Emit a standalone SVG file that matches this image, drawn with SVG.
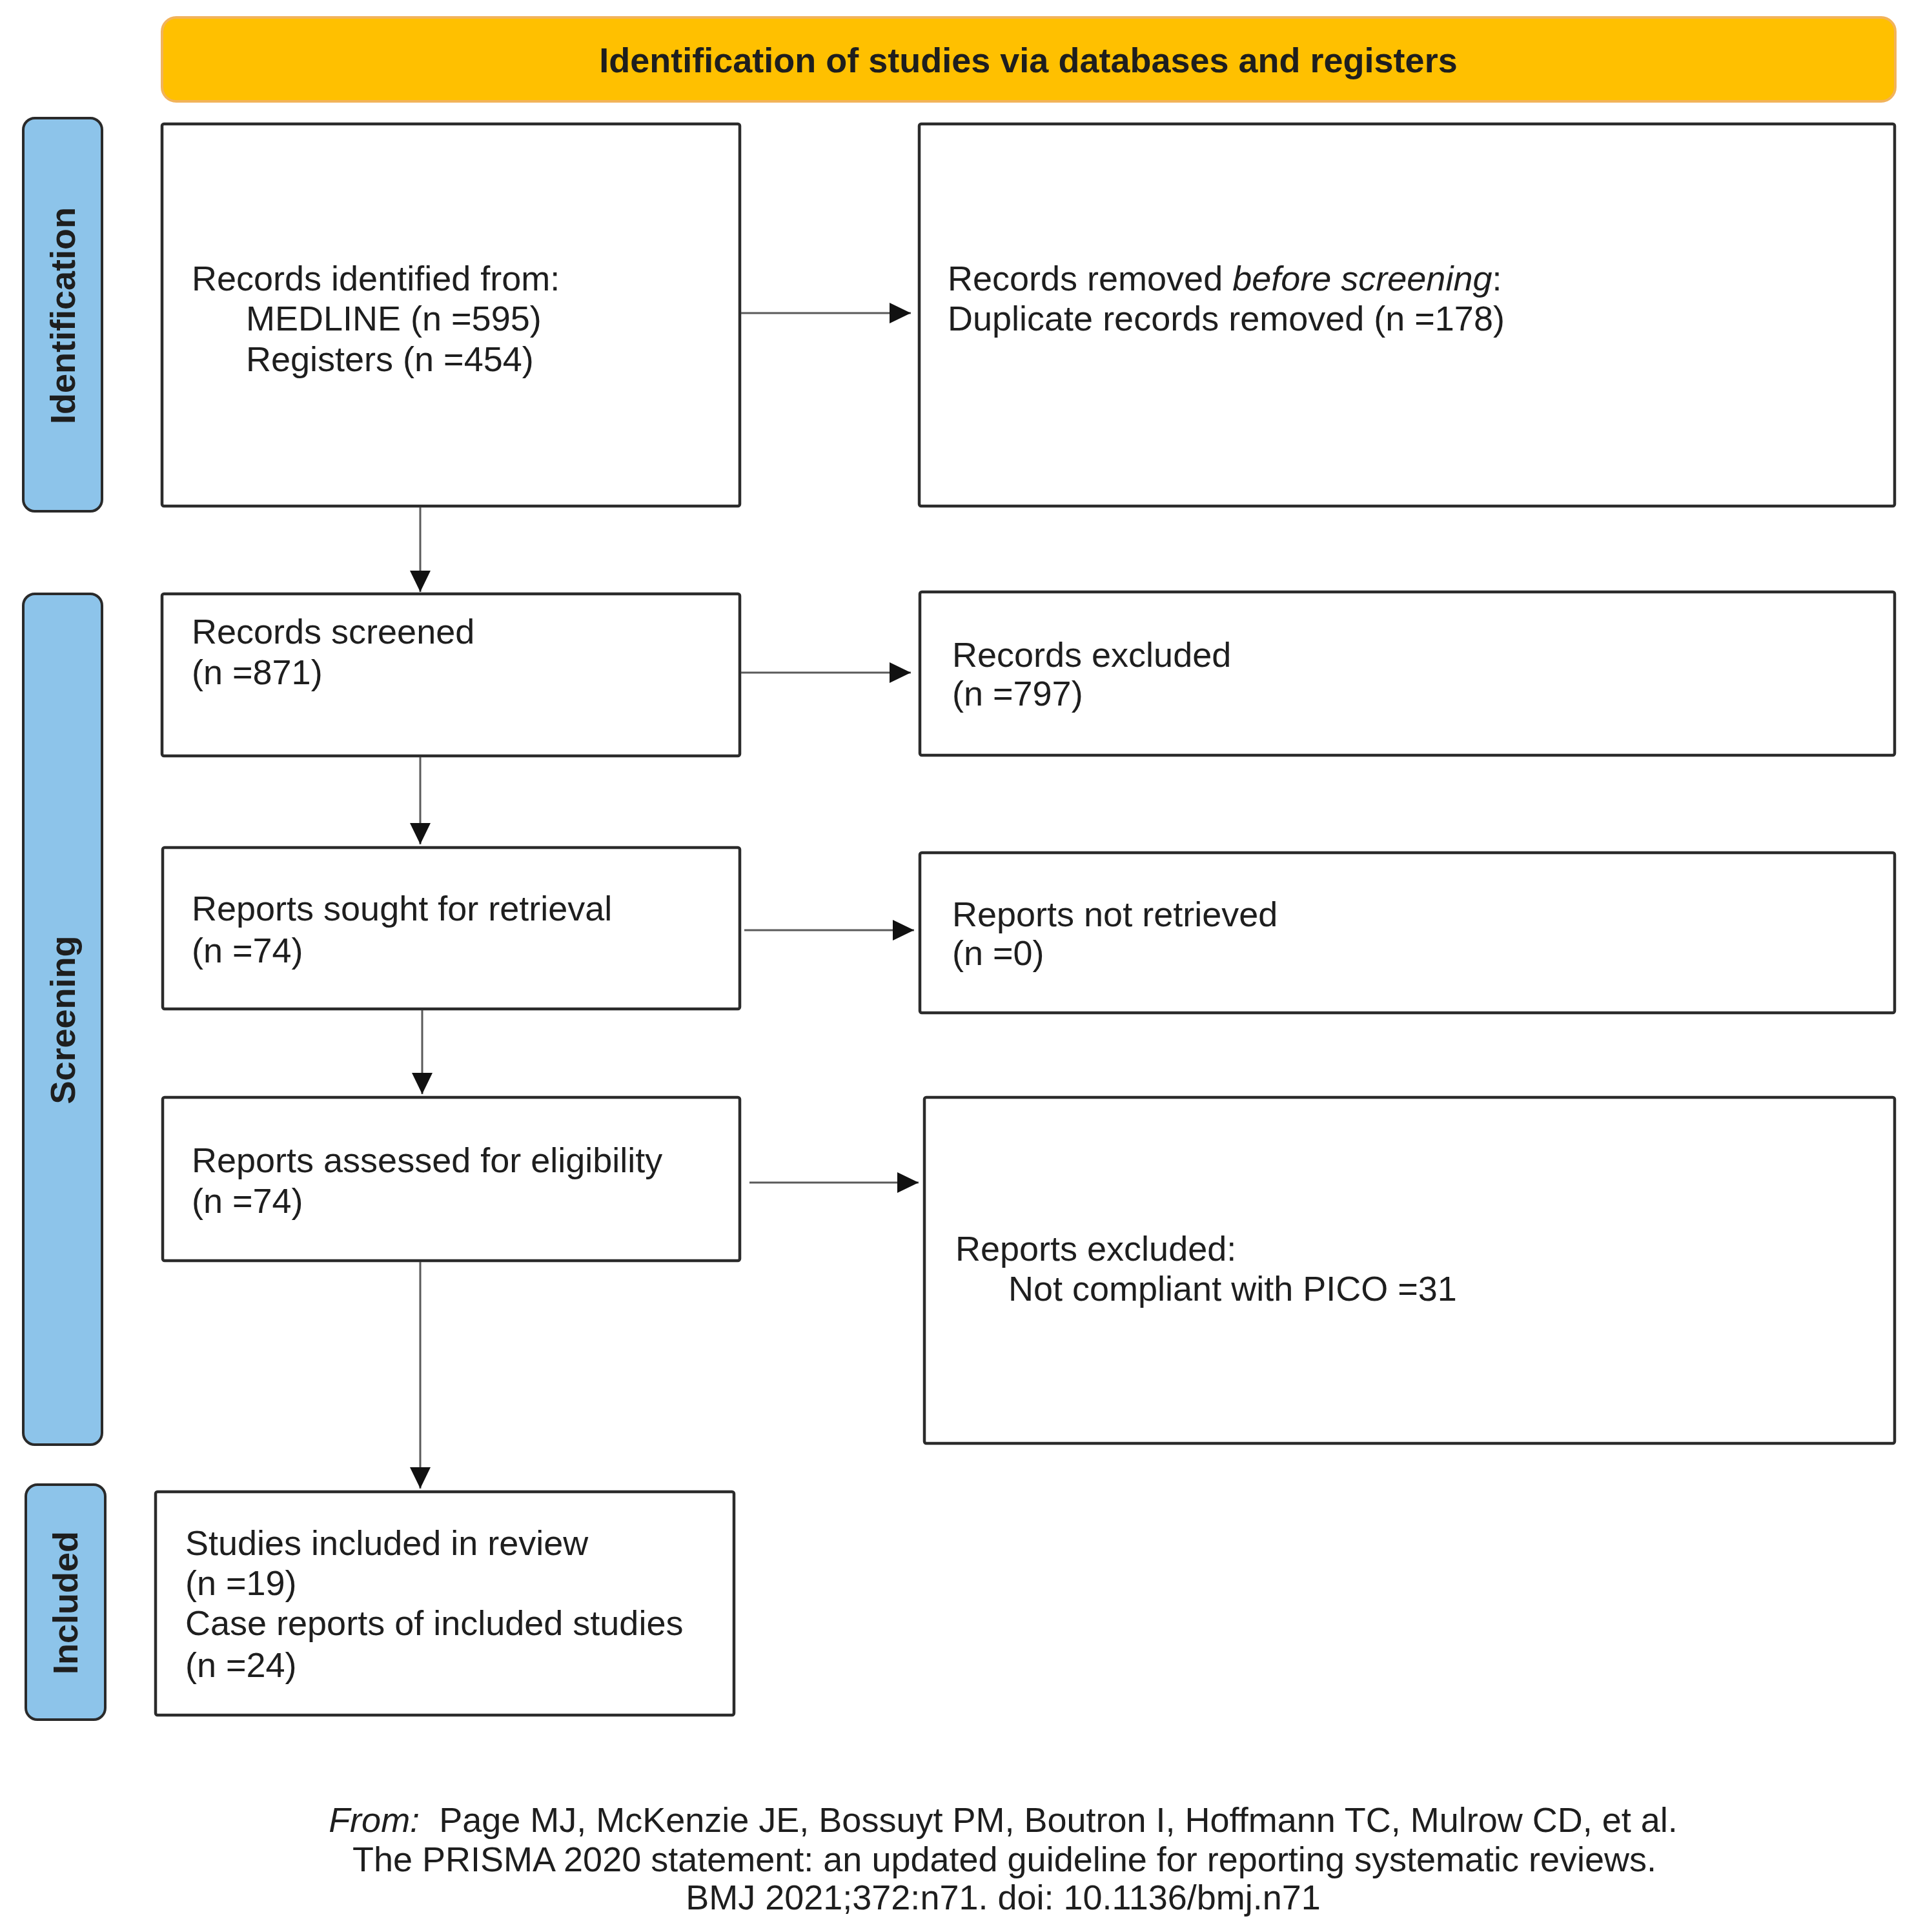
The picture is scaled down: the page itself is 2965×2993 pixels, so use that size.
<svg xmlns="http://www.w3.org/2000/svg" width="2965" height="2993" viewBox="0 0 2965 2993">
<style>
.box{fill:#ffffff;stroke:#2b2b2b;stroke-width:4.5}
.side{fill:#8DC4EA;stroke:#2a2a2a;stroke-width:4}
.t{font-family:"Liberation Sans",Arial,sans-serif;font-size:54px;fill:#1e1e1e}
.b{font-weight:bold}
.conn{stroke:#5a5a5a;stroke-width:3;fill:none}
</style>
<defs>
<marker id="ah" markerUnits="userSpaceOnUse" markerWidth="34" markerHeight="32" refX="33" refY="16" orient="auto">
<path d="M0,0 L33,16 L0,32 Z" fill="#111"/>
</marker>
</defs>
<rect width="2965" height="2993" fill="#ffffff"/>

<g id="header">
<rect x="251" y="27" width="2685" height="130" rx="22" fill="#FFC000" stroke="#F2B35A" stroke-width="4"/>
<text class="t b" x="1593" y="112" text-anchor="middle">Identification of studies via databases and registers</text>
</g>

<g id="side-identification">
<rect class="side" x="36" y="183" width="122" height="609" rx="18"/>
<text class="t b" transform="translate(97,489) rotate(-90)" text-anchor="middle" dominant-baseline="central">Identification</text>
</g>
<g id="side-screening">
<rect class="side" x="36" y="920" width="122" height="1318" rx="18"/>
<text class="t b" transform="translate(97,1580) rotate(-90)" text-anchor="middle" dominant-baseline="central">Screening</text>
</g>
<g id="side-included">
<rect class="side" x="40" y="2300" width="123" height="364" rx="18"/>
<text class="t b" transform="translate(101,2483) rotate(-90)" text-anchor="middle" dominant-baseline="central">Included</text>
</g>

<g id="records-identified">
<rect class="box" x="251" y="192" width="895" height="592" rx="3"/>
<text class="t" x="297" y="450">Records identified from:</text>
<text class="t" x="381" y="512">MEDLINE (n =595)</text>
<text class="t" x="381" y="575">Registers (n =454)</text>
</g>
<g id="records-removed">
<rect class="box" x="1424" y="192" width="1511" height="592" rx="3"/>
<text class="t" x="1468" y="450">Records removed <tspan font-style="italic">before screening</tspan>:</text>
<text class="t" x="1468" y="512">Duplicate records removed (n =178)</text>
</g>
<g id="records-screened">
<rect class="box" x="251" y="920" width="895" height="251" rx="3"/>
<text class="t" x="297" y="997">Records screened</text>
<text class="t" x="297" y="1060">(n =871)</text>
</g>
<g id="records-excluded">
<rect class="box" x="1425" y="917" width="1510" height="253" rx="3"/>
<text class="t" x="1475" y="1033">Records excluded</text>
<text class="t" x="1475" y="1093">(n =797)</text>
</g>
<g id="reports-sought">
<rect class="box" x="252" y="1313" width="894" height="250" rx="3"/>
<text class="t" x="297" y="1426">Reports sought for retrieval</text>
<text class="t" x="297" y="1491">(n =74)</text>
</g>
<g id="reports-not-retrieved">
<rect class="box" x="1425" y="1321" width="1510" height="248" rx="3"/>
<text class="t" x="1475" y="1435">Reports not retrieved</text>
<text class="t" x="1475" y="1495">(n =0)</text>
</g>
<g id="reports-assessed">
<rect class="box" x="252" y="1700" width="894" height="253" rx="3"/>
<text class="t" x="297" y="1816">Reports assessed for eligibility</text>
<text class="t" x="297" y="1879">(n =74)</text>
</g>
<g id="reports-excluded">
<rect class="box" x="1432" y="1700" width="1503" height="536" rx="3"/>
<text class="t" x="1480" y="1953">Reports excluded:</text>
<text class="t" x="1562" y="2015">Not compliant with PICO =31</text>
</g>
<g id="studies-included">
<rect class="box" x="241" y="2311" width="896" height="346" rx="3"/>
<text class="t" x="287" y="2409">Studies included in review</text>
<text class="t" x="287" y="2471">(n =19)</text>
<text class="t" x="287" y="2533">Case reports of included studies</text>
<text class="t" x="287" y="2598">(n =24)</text>
</g>

<g id="connectors">
<line class="conn" x1="1148" y1="485" x2="1411" y2="485" marker-end="url(#ah)"/>
<line class="conn" x1="651" y1="786" x2="651" y2="917" marker-end="url(#ah)"/>
<line class="conn" x1="1148" y1="1042" x2="1411" y2="1042" marker-end="url(#ah)"/>
<line class="conn" x1="651" y1="1173" x2="651" y2="1308" marker-end="url(#ah)"/>
<line class="conn" x1="1153" y1="1441" x2="1416" y2="1441" marker-end="url(#ah)"/>
<line class="conn" x1="654" y1="1565" x2="654" y2="1695" marker-end="url(#ah)"/>
<line class="conn" x1="1161" y1="1832" x2="1423" y2="1832" marker-end="url(#ah)"/>
<line class="conn" x1="651" y1="1955" x2="651" y2="2306" marker-end="url(#ah)"/>
</g>

<g id="footer">
<text class="t" x="1554" y="2838" text-anchor="middle"><tspan font-style="italic">From:</tspan>&#160; Page MJ, McKenzie JE, Bossuyt PM, Boutron I, Hoffmann TC, Mulrow CD, et al.</text>
<text class="t" x="1556" y="2899" text-anchor="middle">The PRISMA 2020 statement: an updated guideline for reporting systematic reviews.</text>
<text class="t" x="1554" y="2958" text-anchor="middle">BMJ 2021;372:n71. doi: 10.1136/bmj.n71</text>
</g>
</svg>
